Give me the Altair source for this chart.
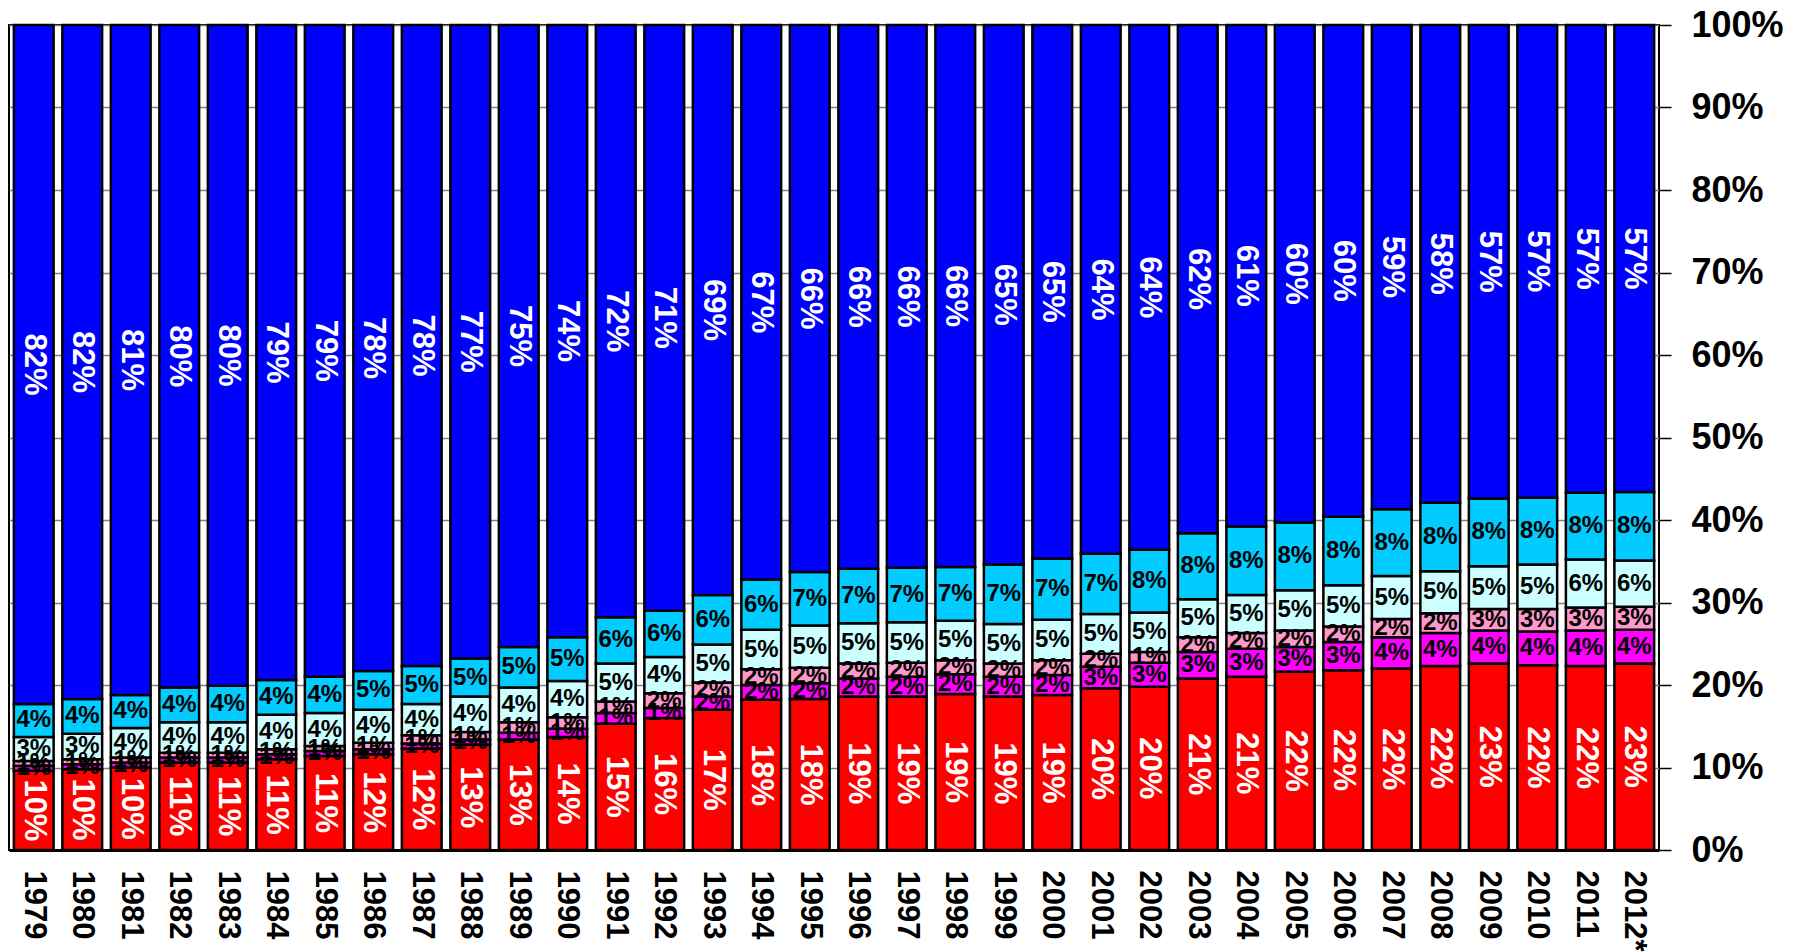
import altair as alt
import pandas as pd

years = [str(y) for y in range(1979, 2012)] + ["2012*"]

red = [9.6, 9.8, 10.0, 10.6, 10.6, 11.0, 11.4, 11.6, 12.3, 12.8, 13.4, 13.7, 15.3, 16.0, 17.0, 18.2, 18.3,
       18.6, 18.6, 18.9, 18.6, 18.8, 19.6, 19.8, 20.8, 21.0, 21.6, 21.8, 22.0, 22.3, 22.6, 22.4, 22.3, 22.6]
magenta = [0.6, 0.6, 0.6, 0.6, 0.6, 0.6, 0.6, 0.6, 0.6, 0.6, 0.8, 1.0, 1.3, 1.2, 1.6, 1.8, 1.9,
           2.2, 2.4, 2.4, 2.4, 2.4, 2.6, 2.9, 3.2, 3.4, 3.0, 3.4, 3.8, 4.0, 4.0, 4.1, 4.3, 4.1]
pink = [0.6, 0.6, 0.6, 0.6, 0.6, 0.6, 0.6, 0.8, 1.0, 0.9, 1.3, 1.4, 1.4, 1.8, 1.7, 1.9, 1.9,
        1.8, 1.7, 1.7, 1.6, 1.8, 1.6, 1.3, 1.8, 1.9, 2.0, 1.9, 2.2, 2.4, 2.6, 2.7, 2.8, 2.8]
lightcyan = [2.9, 3.1, 3.6, 3.7, 3.7, 4.2, 4.0, 4.0, 3.8, 4.3, 4.2, 4.4, 4.6, 4.4, 4.6, 4.8, 5.1,
             4.9, 4.9, 4.8, 4.8, 4.9, 4.8, 4.8, 4.6, 4.6, 4.9, 5.0, 5.2, 5.1, 5.2, 5.4, 5.8, 5.6]
cyan = [4.0, 4.2, 4.0, 4.2, 4.4, 4.2, 4.4, 4.7, 4.6, 4.6, 4.9, 5.3, 5.6, 5.6, 6.0, 6.1, 6.5,
        6.6, 6.6, 6.5, 7.2, 7.4, 7.3, 7.6, 8.0, 8.3, 8.2, 8.3, 8.1, 8.3, 8.2, 8.1, 8.1, 8.3]
blue = [82.3, 81.7, 81.2, 80.3, 80.1, 79.4, 79.0, 78.3, 77.7, 76.8, 75.4, 74.2, 71.8, 71.0, 69.1, 67.2, 66.3,
        65.9, 65.8, 65.7, 65.4, 64.7, 64.1, 63.6, 61.6, 60.8, 60.3, 59.6, 58.7, 57.9, 57.4, 57.3, 56.7, 56.6]

series_names = ["red", "magenta", "pink", "lightcyan", "cyan", "blue"]
series_colors = ["#FF0000", "#FF00FF", "#FF99CC", "#CCFFFF", "#00CCFF", "#0000FF"]
series_values = [red, magenta, pink, lightcyan, cyan, blue]

rows = []
for i, yr in enumerate(years):
    for k, (name, vals) in enumerate(zip(series_names, series_values)):
        rows.append({"year": yr, "series": name, "order": k, "value": vals[i]})
df = pd.DataFrame(rows)

FONT = "Liberation Sans"

base = alt.Chart(df).transform_stack(
    stack="value", groupby=["year"], as_=["v0", "v1"],
    sort=[alt.SortField("order", "ascending")]
).transform_calculate(
    mid="(datum.v0 + datum.v1) / 2",
    label="format(datum.value / 100, '.0%')"
)

x_enc = alt.X(
    "year:N", sort=years,
    scale=alt.Scale(paddingInner=0.18, paddingOuter=0.1),
    axis=alt.Axis(
        labelAngle=90, labelFontSize=31, labelFontWeight="bold", labelFont=FONT,
        labelColor="black", ticks=False, domainColor="black", domainWidth=3,
        labelPadding=20, title=None, grid=False
    )
)

bars = base.mark_bar(stroke="black", strokeWidth=2.5).encode(
    x=x_enc,
    y=alt.Y(
        "v0:Q",
        scale=alt.Scale(domain=[0, 100], nice=False),
        axis=alt.Axis(
            orient="right", values=list(range(0, 101, 10)),
            labelExpr="datum.value + '%'", labelFontSize=36, labelFontWeight="bold",
            labelFont=FONT, labelColor="black", tickSize=12, tickColor="black",
            tickWidth=1.5, domain=False, grid=True, gridColor="#808080",
            gridWidth=1.5, labelPadding=20, title=None
        )
    ),
    y2="v1:Q",
    color=alt.Color("series:N", scale=alt.Scale(domain=series_names, range=series_colors), legend=None),
    order=alt.Order("order:Q")
)

big_text = base.transform_filter(
    "datum.series == 'red' || datum.series == 'blue'"
).mark_text(
    angle=90, color="white", fontSize=31, fontWeight="bold", font=FONT,
    align="center", baseline="middle"
).encode(
    x=alt.X("year:N", sort=years),
    y=alt.Y("mid:Q"),
    text="label:N"
)

small_text = base.transform_filter(
    "datum.series != 'red' && datum.series != 'blue'"
).mark_text(
    color="black", fontSize=24, fontWeight="bold", font=FONT,
    align="center", baseline="middle"
).encode(
    x=alt.X("year:N", sort=years),
    y=alt.Y("mid:Q"),
    text="label:N"
)

chart = alt.layer(bars, small_text, big_text).properties(
    width=1650, height=825,
    autosize=alt.AutoSizeParams(type="none"),
    padding={"left": 9, "top": 25, "right": 134, "bottom": 102},
    background="white"
).configure_view(
    stroke="black", strokeWidth=2
)

chart.save("out.html", embed_options={"renderer": "svg", "actions": False})
